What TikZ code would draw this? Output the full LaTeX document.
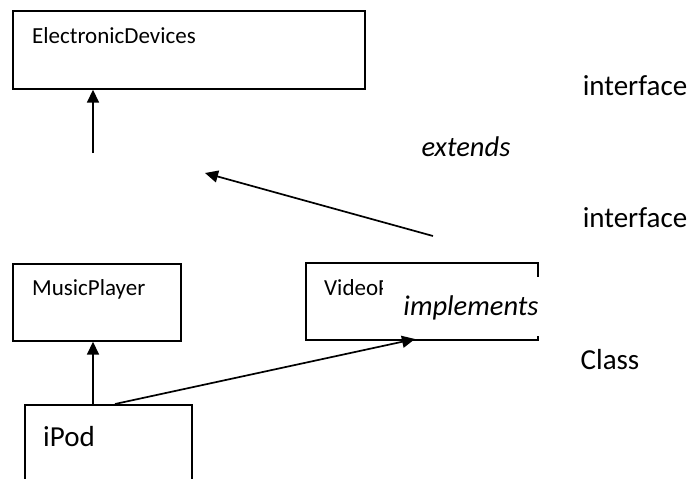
\documentclass[tikz,border=0pt]{standalone}
\usepackage{fontspec}
\setmainfont{Carlito}
\usetikzlibrary{arrows.meta}
\tikzset{
  box/.style={draw,line width=1.7pt,inner sep=0pt,anchor=north west},
  smalltext/.style={font=\fontsize{23pt}{26pt}\selectfont,inner sep=0pt,anchor=west},
  bigtext/.style={font=\fontsize{29pt}{32pt}\selectfont,inner sep=0pt},
  italtext/.style={font=\fontsize{28.5pt}{32pt}\selectfont\itshape,inner sep=0pt},
  arr/.style={line width=1.7pt,-{Triangle[length=13pt,width=12pt]}}
}
\begin{document}
\begin{tikzpicture}[x=1pt,y=-1pt]
\useasboundingbox (0,0) rectangle (688,479);
\clip (0,0) rectangle (688,479);
% boxes
\node[box,minimum width=352pt,minimum height=78pt] (ed) at (12,10) {};
\node[smalltext] at (32,36) {ElectronicDevices};
\node[box,minimum width=168pt,minimum height=77pt] (mp) at (12,263) {};
\node[smalltext] at (32,289) {MusicPlayer};
\node[box,minimum width=232pt,minimum height=77pt] (vp) at (305,262) {};
\node[smalltext] at (324,289) {VideoPlayer};
\node[box,minimum width=167pt,minimum height=110pt] (ipod) at (24,404) {};
\node[bigtext,anchor=west] at (43,437) {iPod};
% label covering part of VideoPlayer
\node[fill=white,inner sep=0pt,minimum width=157pt,minimum height=59pt,anchor=north west] (impl) at (383,277) {};
\node[italtext] at (471,308) {implements};
% side labels
\node[bigtext] (if1) at (635,86) {interface};
\node[bigtext] (if2) at (635,218) {interface};
\node[bigtext] (cls) at (610,360) {Class};
\node[italtext] (ext) at (466,147) {extends};
% connectors
\coordinate (a1) at (93,153);
\draw[arr] (a1) -- (ed.south west -| a1);
\coordinate (e1) at (433,236);
\coordinate (e2) at (205,173);
\draw[arr] (e1) -- (e2);
\draw[arr] (ipod.north west -| a1) -- (mp.south west -| a1);
\coordinate (i1) at (115,404);
\coordinate (i2) at (415,339);
\draw[arr] (i1) -- (i2);
\end{tikzpicture}
\end{document}
